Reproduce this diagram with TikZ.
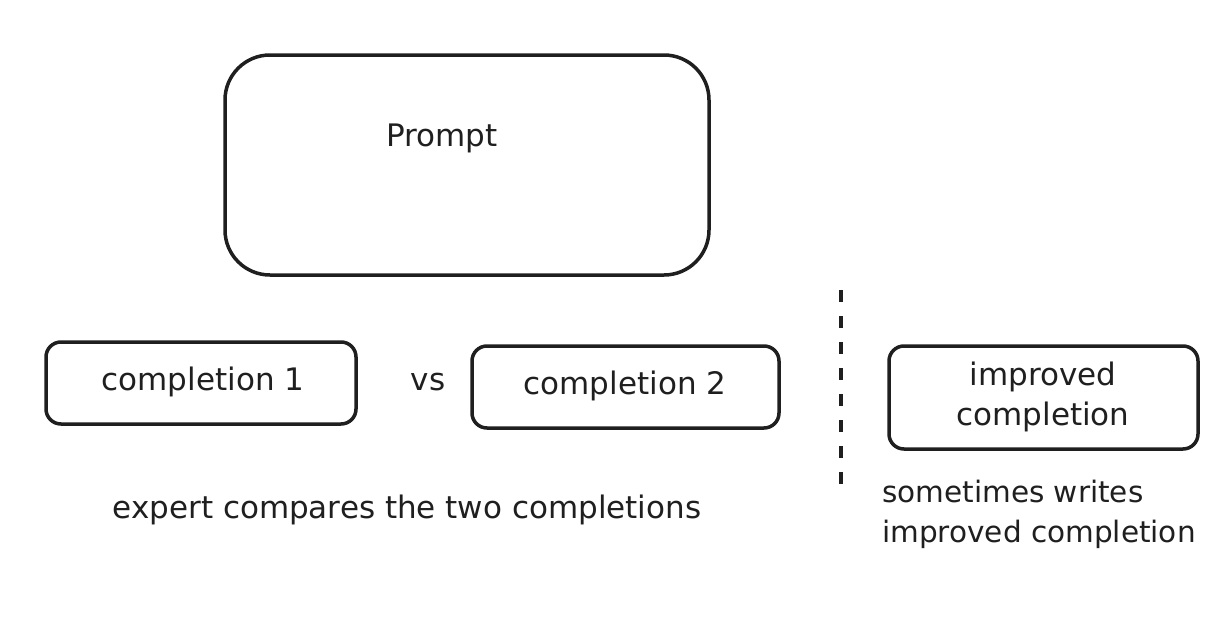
\documentclass[tikz,border=0pt]{standalone}
\usepackage{fontspec}
\setmainfont{DejaVu Sans}
\begin{document}
\begin{tikzpicture}[x=1pt,y=-1pt,
  box/.style={draw=black!88, line width=3.5pt, rounded corners=#1},
  lbl/.style={font=\fontsize{31}{40}\selectfont, text=black!88, inner sep=0pt},
  ]
\useasboundingbox[fill=white] (0,0) rectangle (1232,640);
\draw[box=45pt] (225,55) rectangle (709,275);
\node[lbl] (prompt) at (442,138) {Prompt};
\draw[box=15pt] (46,342) rectangle (356,424);
\node[lbl] (c1) at (203,382) {completion 1};
\node[lbl] (vs) at (428,382) {vs};
\draw[box=15pt] (472,346) rectangle (779,428);
\node[lbl] (c2) at (625,386) {completion 2};
\draw[box=15pt] (889,346) rectangle (1198,449);
\node[lbl, align=center] (ic) at (1043,397) {improved\\completion};
\coordinate (d1) at (841,290);
\coordinate (d2) at (841,487);
\draw[line width=3.5pt, black!88, dash pattern=on 12pt off 14pt] (d1) -- (d2);
\node[lbl] (expert) at (407,510) {expert compares the two completions};
\node[lbl, font=\fontsize{29.5}{40}\selectfont, align=left, anchor=west] (sw) at (882,514) {sometimes writes\\improved completion};
\end{tikzpicture}
\end{document}
